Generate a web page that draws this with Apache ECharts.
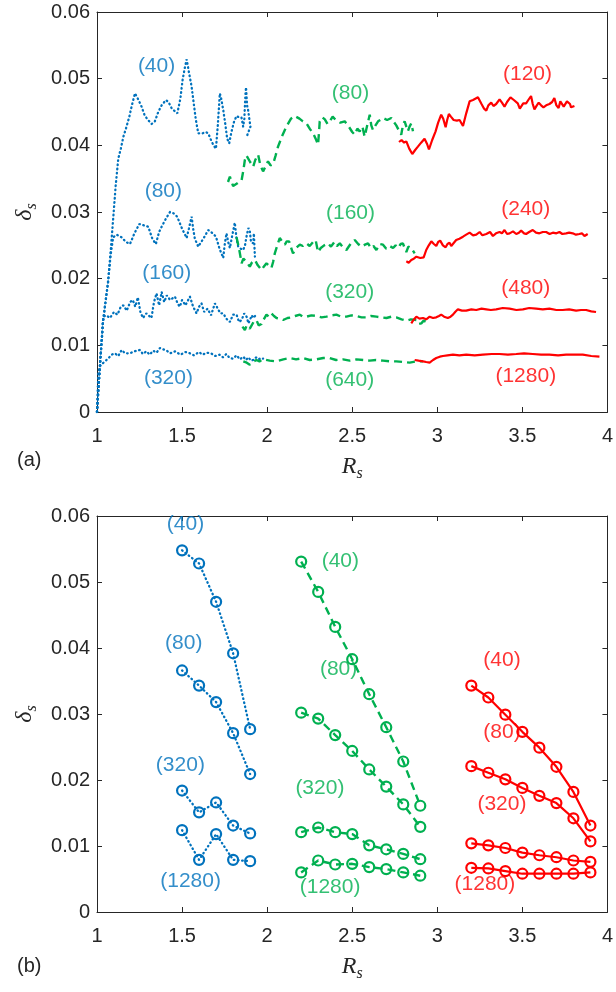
<!DOCTYPE html>
<html>
<head>
<meta charset="utf-8">
<title>δs versus Rs</title>
<script src="https://cdn.jsdelivr.net/npm/echarts@6/dist/echarts.min.js"></script>
<style>
  html, body { margin: 0; padding: 0; background: #ffffff; }
  #chart { width: 616px; height: 992px; }
</style>
</head>
<body>
<div id="chart"></div>
<script>
// ---------- Panel (a): δs traced along Rs ----------
// blue dotted, segment 1 < Rs < 2
const blue40 = [[1.0,0],[1.01,0.004],[1.02,0.008],[1.035,0.0135],[1.05,0.0165],[1.065,0.0195],[1.08,0.024],[1.096,0.0293],[1.11,0.034],[1.125,0.038],[1.14,0.0395],[1.155,0.0413],[1.17,0.0425],[1.19,0.0443],[1.205,0.046],[1.223,0.0478],[1.24,0.047],[1.262,0.0458],[1.28,0.0445],[1.3,0.0438],[1.321,0.0432],[1.34,0.0436],[1.36,0.045],[1.38,0.046],[1.405,0.0468],[1.42,0.0465],[1.44,0.0455],[1.472,0.0448],[1.49,0.047],[1.503,0.0498],[1.515,0.0515],[1.527,0.0529],[1.54,0.051],[1.556,0.0488],[1.57,0.046],[1.58,0.044],[1.595,0.0418],[1.62,0.0418],[1.64,0.042],[1.654,0.0418],[1.67,0.0408],[1.685,0.04],[1.699,0.0395],[1.71,0.043],[1.722,0.0478],[1.73,0.047],[1.742,0.0453],[1.755,0.043],[1.765,0.041],[1.777,0.0403],[1.79,0.042],[1.805,0.0435],[1.82,0.0444],[1.835,0.0442],[1.849,0.0442],[1.859,0.0428],[1.866,0.044],[1.872,0.0475],[1.876,0.0487],[1.882,0.046],[1.888,0.0453],[1.895,0.044],[1.902,0.0428],[1.89,0.042],[1.88,0.0413]];
const blue80 = [[1.0,0],[1.01,0.004],[1.02,0.008],[1.035,0.0135],[1.05,0.0165],[1.065,0.0195],[1.08,0.0235],[1.095,0.0262],[1.115,0.0266],[1.13,0.0264],[1.145,0.0262],[1.17,0.0255],[1.194,0.0252],[1.22,0.0268],[1.249,0.0282],[1.275,0.028],[1.301,0.0278],[1.325,0.026],[1.346,0.0252],[1.365,0.027],[1.38,0.0278],[1.405,0.029],[1.429,0.03],[1.45,0.0298],[1.471,0.0293],[1.5,0.0275],[1.527,0.0261],[1.54,0.0275],[1.556,0.0293],[1.565,0.0275],[1.575,0.026],[1.595,0.0248],[1.625,0.026],[1.654,0.0273],[1.68,0.0268],[1.699,0.0263],[1.72,0.0245],[1.742,0.0231],[1.75,0.025],[1.761,0.0268],[1.771,0.0255],[1.781,0.0246],[1.795,0.0265],[1.81,0.0284],[1.82,0.026],[1.83,0.0248],[1.845,0.0245],[1.859,0.0243],[1.87,0.025],[1.88,0.0265],[1.89,0.0276],[1.898,0.0272],[1.905,0.0255],[1.918,0.0253],[1.922,0.0268],[1.928,0.0233]];
const blue160 = [[1.0,0],[1.01,0.004],[1.02,0.008],[1.03,0.0115],[1.037,0.0143],[1.055,0.0145],[1.076,0.0141],[1.1,0.015],[1.12,0.0146],[1.14,0.0158],[1.155,0.016],[1.175,0.0152],[1.195,0.0165],[1.21,0.0168],[1.225,0.0158],[1.24,0.0172],[1.255,0.015],[1.27,0.0141],[1.29,0.0148],[1.32,0.0141],[1.335,0.0165],[1.35,0.0178],[1.365,0.016],[1.38,0.018],[1.395,0.0165],[1.41,0.0175],[1.43,0.0168],[1.458,0.0173],[1.475,0.0162],[1.487,0.0158],[1.5,0.0168],[1.52,0.016],[1.546,0.0173],[1.565,0.0158],[1.585,0.0148],[1.6,0.0158],[1.614,0.0163],[1.63,0.015],[1.65,0.0155],[1.67,0.0145],[1.693,0.0163],[1.71,0.0155],[1.725,0.0148],[1.742,0.0148],[1.76,0.014],[1.781,0.0135],[1.8,0.0146],[1.82,0.0146],[1.835,0.0135],[1.85,0.0138],[1.865,0.0148],[1.879,0.0143],[1.89,0.0133],[1.898,0.0133],[1.91,0.0145],[1.918,0.0141],[1.928,0.0138],[1.937,0.0146]];
const blue320 = [[1.0,0],[1.004,0.003],[1.008,0.0058],[1.015,0.0068],[1.03,0.0072],[1.047,0.0076],[1.065,0.008],[1.086,0.0086],[1.105,0.0088],[1.125,0.0084],[1.145,0.0093],[1.165,0.0088],[1.194,0.0088],[1.22,0.0091],[1.252,0.0093],[1.27,0.0087],[1.29,0.0091],[1.31,0.0086],[1.33,0.0092],[1.35,0.0089],[1.37,0.0096],[1.39,0.0094],[1.41,0.0092],[1.43,0.0088],[1.46,0.0091],[1.49,0.0086],[1.52,0.009],[1.546,0.0088],[1.57,0.0085],[1.6,0.009],[1.62,0.0086],[1.645,0.0089],[1.67,0.0088],[1.695,0.0084],[1.72,0.0086],[1.74,0.0082],[1.76,0.0087],[1.78,0.0081],[1.8,0.008],[1.82,0.0085],[1.84,0.0079],[1.86,0.0083],[1.875,0.0078],[1.89,0.0082],[1.905,0.0077],[1.918,0.0078],[1.935,0.0082],[1.95,0.0079],[1.965,0.0081],[1.976,0.008]];

// green dashed, segment 2 < Rs < 3
const green80 = [[1.77,0.0345],[1.781,0.0353],[1.79,0.0346],[1.80,0.0339],[1.825,0.0343],[1.85,0.0348],[1.86,0.0362],[1.869,0.0378],[1.878,0.0385],[1.888,0.0383],[1.9,0.0375],[1.918,0.0368],[1.93,0.0378],[1.947,0.0386],[1.96,0.037],[1.976,0.0361],[1.99,0.0368],[2.005,0.0376],[2.02,0.037],[2.035,0.0372],[2.05,0.0385],[2.064,0.0398],[2.09,0.0415],[2.113,0.0428],[2.14,0.044],[2.162,0.0444],[2.19,0.044],[2.21,0.0436],[2.231,0.0433],[2.25,0.0425],[2.27,0.0418],[2.285,0.041],[2.299,0.0401],[2.305,0.042],[2.309,0.0436],[2.325,0.0442],[2.339,0.0439],[2.355,0.0432],[2.368,0.0436],[2.385,0.0443],[2.403,0.0438],[2.43,0.0434],[2.456,0.0436],[2.48,0.0428],[2.5,0.042],[2.515,0.0416],[2.53,0.0425],[2.544,0.0421],[2.56,0.0428],[2.573,0.0413],[2.59,0.0432],[2.603,0.0446],[2.612,0.043],[2.622,0.0423],[2.637,0.043],[2.652,0.0436],[2.665,0.0438],[2.681,0.0441],[2.705,0.0438],[2.73,0.0441],[2.745,0.0435],[2.759,0.043],[2.775,0.0422],[2.788,0.0416],[2.798,0.043],[2.808,0.0436],[2.818,0.0428],[2.827,0.0421],[2.837,0.0428],[2.847,0.0433],[2.857,0.0421]];
const green160 = [[1.82,0.0262],[1.835,0.0245],[1.85,0.0223],[1.86,0.023],[1.869,0.0233],[1.88,0.0225],[1.898,0.0218],[1.91,0.0224],[1.928,0.0228],[1.945,0.022],[1.967,0.0213],[1.98,0.0218],[1.996,0.0223],[2.01,0.022],[2.025,0.0216],[2.035,0.0225],[2.045,0.0238],[2.06,0.025],[2.074,0.0261],[2.09,0.0255],[2.104,0.0251],[2.115,0.0256],[2.129,0.0256],[2.14,0.0247],[2.152,0.0238],[2.17,0.0246],[2.192,0.0251],[2.21,0.0249],[2.231,0.0253],[2.25,0.0249],[2.27,0.0255],[2.285,0.0258],[2.299,0.024],[2.315,0.0246],[2.335,0.025],[2.358,0.0253],[2.375,0.0248],[2.395,0.0255],[2.41,0.0249],[2.427,0.0253],[2.445,0.0247],[2.466,0.0243],[2.49,0.0252],[2.515,0.0258],[2.535,0.0252],[2.554,0.0248],[2.575,0.0251],[2.593,0.0253],[2.61,0.0246],[2.625,0.0249],[2.642,0.0243],[2.66,0.0252],[2.681,0.0251],[2.7,0.0245],[2.72,0.0249],[2.74,0.0246],[2.755,0.025],[2.77,0.0246],[2.785,0.0252],[2.798,0.0253],[2.808,0.0246],[2.818,0.024],[2.83,0.0248],[2.847,0.0246],[2.857,0.0243],[2.867,0.0238]];
const green320 = [[1.855,0.0128],[1.869,0.0123],[1.88,0.013],[1.888,0.0133],[1.898,0.0125],[1.908,0.0128],[1.92,0.0135],[1.937,0.0138],[1.95,0.013],[1.967,0.0132],[1.98,0.0139],[1.996,0.0146],[2.01,0.0143],[2.025,0.0148],[2.04,0.0144],[2.055,0.0141],[2.075,0.014],[2.094,0.0138],[2.12,0.0141],[2.143,0.0142],[2.165,0.0144],[2.192,0.0146],[2.21,0.0143],[2.231,0.0143],[2.26,0.0145],[2.29,0.0144],[2.32,0.0142],[2.349,0.0143],[2.38,0.0145],[2.407,0.0146],[2.435,0.0143],[2.466,0.0143],[2.495,0.0145],[2.525,0.0144],[2.555,0.0142],[2.583,0.0142],[2.61,0.0144],[2.642,0.0143],[2.67,0.0142],[2.701,0.0141],[2.73,0.0143],[2.759,0.0142],[2.79,0.0139],[2.818,0.0137],[2.845,0.0139],[2.877,0.0138],[2.892,0.0132],[2.906,0.0133],[2.92,0.0137],[2.935,0.0135]];
const green640 = [[1.86,0.0076],[1.88,0.0074],[1.898,0.0071],[1.915,0.0075],[1.937,0.0078],[1.955,0.0076],[1.976,0.0079],[2.015,0.0077],[2.055,0.0076],[2.095,0.0079],[2.133,0.0081],[2.17,0.0079],[2.211,0.0081],[2.25,0.0078],[2.29,0.0079],[2.33,0.0081],[2.368,0.0081],[2.405,0.0078],[2.446,0.0079],[2.485,0.0077],[2.525,0.0079],[2.565,0.0078],[2.603,0.0077],[2.64,0.0078],[2.681,0.0077],[2.72,0.0076],[2.759,0.0076],[2.8,0.0075],[2.838,0.0074],[2.878,0.0076],[2.916,0.0076]];

// red solid, segment 3 < Rs < 4
const red120 = [[2.775,0.0405],[2.79,0.0408],[2.805,0.0404],[2.818,0.0406],[2.835,0.0395],[2.853,0.0387],[2.87,0.0393],[2.886,0.0398],[2.905,0.0404],[2.925,0.041],[2.94,0.0402],[2.951,0.0394],[2.97,0.0408],[2.99,0.0421],[3.005,0.0434],[3.023,0.0446],[3.035,0.044],[3.049,0.0427],[3.058,0.0438],[3.068,0.0447],[3.08,0.0443],[3.096,0.0438],[3.115,0.0437],[3.131,0.0438],[3.151,0.0429],[3.17,0.0448],[3.19,0.0466],[3.21,0.0468],[3.239,0.0472],[3.26,0.0462],[3.275,0.0455],[3.288,0.0452],[3.3,0.046],[3.317,0.0464],[3.33,0.0459],[3.346,0.0462],[3.366,0.0469],[3.38,0.0464],[3.395,0.0458],[3.41,0.0465],[3.43,0.0472],[3.45,0.0468],[3.473,0.0463],[3.485,0.0455],[3.493,0.0457],[3.505,0.0463],[3.522,0.0463],[3.535,0.0468],[3.551,0.0474],[3.561,0.0462],[3.571,0.0454],[3.585,0.046],[3.596,0.0464],[3.61,0.046],[3.624,0.0457],[3.64,0.046],[3.659,0.0462],[3.675,0.0465],[3.688,0.0471],[3.7,0.046],[3.713,0.0456],[3.723,0.0466],[3.733,0.0468],[3.743,0.0458],[3.753,0.0458],[3.762,0.0466],[3.772,0.0469],[3.78,0.0462],[3.786,0.0457],[3.796,0.046],[3.806,0.0459]];
const red240 = [[2.818,0.0226],[2.832,0.0224],[2.847,0.0228],[2.862,0.023],[2.877,0.0233],[2.9,0.0231],[2.92,0.0232],[2.935,0.0243],[2.95,0.025],[2.965,0.0256],[2.98,0.0252],[2.994,0.0249],[3.005,0.0255],[3.017,0.0257],[3.033,0.025],[3.049,0.0247],[3.06,0.0252],[3.072,0.0254],[3.082,0.0249],[3.092,0.0248],[3.111,0.0258],[3.13,0.026],[3.151,0.0263],[3.17,0.0266],[3.19,0.0269],[3.21,0.0265],[3.229,0.0266],[3.249,0.027],[3.265,0.0265],[3.288,0.0267],[3.31,0.027],[3.327,0.0264],[3.345,0.0268],[3.366,0.027],[3.38,0.0268],[3.395,0.0273],[3.41,0.0267],[3.425,0.0268],[3.445,0.0271],[3.464,0.0267],[3.48,0.0269],[3.493,0.0272],[3.51,0.0268],[3.522,0.0267],[3.54,0.027],[3.561,0.0273],[3.58,0.0269],[3.6,0.0268],[3.62,0.027],[3.64,0.027],[3.66,0.0267],[3.679,0.0269],[3.7,0.0268],[3.718,0.027],[3.735,0.0267],[3.757,0.0268],[3.775,0.0269],[3.796,0.0268],[3.815,0.0266],[3.835,0.0267],[3.85,0.0268],[3.865,0.0264],[3.875,0.0265],[3.884,0.0267]];
const red480 = [[2.847,0.0133],[2.86,0.0138],[2.877,0.0143],[2.895,0.014],[2.916,0.0141],[2.935,0.0139],[2.955,0.0143],[2.975,0.0141],[2.994,0.0142],[3.01,0.0144],[3.023,0.0146],[3.04,0.0143],[3.062,0.0141],[3.078,0.0143],[3.092,0.0146],[3.105,0.015],[3.121,0.0154],[3.145,0.0152],[3.17,0.0152],[3.2,0.0154],[3.229,0.0153],[3.26,0.0155],[3.288,0.0154],[3.315,0.0153],[3.346,0.0154],[3.385,0.0156],[3.425,0.0155],[3.465,0.0153],[3.503,0.0154],[3.54,0.0156],[3.581,0.0155],[3.62,0.0154],[3.659,0.0155],[3.7,0.0153],[3.737,0.0153],[3.775,0.0154],[3.816,0.0152],[3.845,0.0153],[3.875,0.0153],[3.905,0.0151],[3.933,0.015]];
const red1280 = [[2.867,0.0078],[2.89,0.0077],[2.916,0.0076],[2.935,0.0075],[2.955,0.0074],[2.975,0.0078],[2.994,0.0081],[3.015,0.0083],[3.033,0.0084],[3.06,0.0085],[3.092,0.0086],[3.13,0.0085],[3.17,0.0086],[3.22,0.0085],[3.268,0.0086],[3.32,0.0087],[3.366,0.0087],[3.415,0.0086],[3.464,0.0087],[3.51,0.0088],[3.561,0.0087],[3.61,0.0086],[3.659,0.0086],[3.71,0.0085],[3.757,0.0086],[3.805,0.0086],[3.855,0.0086],[3.905,0.0084],[3.953,0.0083]];

// curve annotations for panel (a): [Rs, δs, text]
const labelsTopBlue  = [[1.35,0.0518,'(40)'],[1.39,0.0331,'(80)'],[1.41,0.0208,'(160)'],[1.42,0.0051,'(320)']];
const labelsTopGreen = [[2.49,0.0478,'(80)'],[2.49,0.0298,'(160)'],[2.485,0.018,'(320)'],[2.485,0.0048,'(640)']];
const labelsTopRed   = [[3.53,0.0507,'(120)'],[3.52,0.0304,'(240)'],[3.52,0.0186,'(480)'],[3.52,0.0054,'(1280)']];

// ---------- Panel (b): δs at sampled Rs ----------
const rsBlue  = [1.5, 1.6, 1.7, 1.8, 1.9];
const rsGreen = [2.2, 2.3, 2.4, 2.5, 2.6, 2.7, 2.8, 2.9];
const rsRed   = [3.2, 3.3, 3.4, 3.5, 3.6, 3.7, 3.8, 3.9];

const bBlue40    = [0.0548, 0.0528, 0.0470, 0.0392, 0.0277];
const bBlue80    = [0.0366, 0.0343, 0.0318, 0.0271, 0.0209];
const bBlue320   = [0.0184, 0.0151, 0.0166, 0.0131, 0.0119];
const bBlue1280  = [0.0124, 0.0079, 0.0118, 0.0079, 0.0077];
const bGreen40   = [0.0531, 0.0485, 0.0432, 0.0383, 0.0330, 0.0280, 0.0228, 0.0161];
const bGreen80   = [0.0302, 0.0293, 0.0268, 0.0244, 0.0216, 0.0190, 0.0163, 0.0129];
const bGreen320  = [0.0121, 0.0128, 0.0121, 0.0118, 0.0101, 0.0095, 0.0088, 0.0080];
const bGreen1280 = [0.0060, 0.0078, 0.0072, 0.0073, 0.0068, 0.0065, 0.0060, 0.0055];
const bRed40     = [0.0343, 0.0325, 0.0299, 0.0273, 0.0249, 0.0220, 0.0182, 0.0131];
const bRed80     = [0.0221, 0.0211, 0.0201, 0.0188, 0.0176, 0.0165, 0.0142, 0.0107];
const bRed320    = [0.0104, 0.0101, 0.0097, 0.0090, 0.0086, 0.0083, 0.0078, 0.0076];
const bRed1280   = [0.0067, 0.0066, 0.0062, 0.0058, 0.0058, 0.0058, 0.0058, 0.0060];

const labelsBotBlue  = [[1.52,0.0588,'(40)'],[1.51,0.0408,'(80)'],[1.49,0.0222,'(320)'],[1.55,0.0046,'(1280)']];
const labelsBotGreen = [[2.43,0.0531,'(40)'],[2.42,0.0368,'(80)'],[2.31,0.0188,'(320)'],[2.37,0.0038,'(1280)']];
const labelsBotRed   = [[3.38,0.0382,'(40)'],[3.38,0.0272,'(80)'],[3.38,0.0164,'(320)'],[3.28,0.0042,'(1280)']];

const xTicks = { min: 1, max: 4, interval: 0.5 };
const yTicks = { min: 0, max: 0.06, interval: 0.01 };

// ---------- styling ----------
const BLUE = '#0072BD', GREEN = '#00B050', RED = '#FF0000';
const AXIS = '#262626';
const SANS = '"Liberation Sans", Arial, sans-serif';
const SERIF = '"Liberation Serif", "DejaVu Serif", serif';

const dotted = { color: BLUE, width: 2.3, type: [0.6, 3.6], cap: 'round' };
const dashed = { color: GREEN, width: 2.4, type: [8, 5] };
const solid  = { color: RED, width: 2.2 };

const zip = (xs, ys) => xs.map((x, i) => [x, ys[i]]);

const nameRich = {
  i: { fontFamily: SERIF, fontStyle: 'italic', fontSize: 24, color: AXIS },
  s: { fontFamily: SERIF, fontStyle: 'italic', fontSize: 16, color: AXIS, padding: [14, 0, 0, 0] }
};

function axisPair(gridIndex) {
  const x = [
    {
      type: 'value', gridIndex, position: 'bottom', ...xTicks,
      axisLine: { onZero: false, lineStyle: { color: AXIS, width: 1 } },
      axisTick: { inside: true, length: 5, lineStyle: { color: AXIS } },
      axisLabel: { color: AXIS, fontSize: 20, fontFamily: SANS, margin: 14 },
      splitLine: { show: false },
      name: '{i|R}{s|s}', nameLocation: 'middle', nameGap: 40,
      nameTextStyle: { rich: nameRich }
    },
    {
      type: 'value', gridIndex, position: 'top', ...xTicks,
      axisLine: { onZero: false, lineStyle: { color: AXIS, width: 1 } },
      axisTick: { inside: true, length: 5, lineStyle: { color: AXIS } },
      axisLabel: { show: false }, splitLine: { show: false }
    }
  ];
  const y = [
    {
      type: 'value', gridIndex, position: 'left', ...yTicks,
      axisLine: { show: true, onZero: false, lineStyle: { color: AXIS, width: 1 } },
      axisTick: { show: true, inside: true, length: 5, lineStyle: { color: AXIS } },
      axisLabel: { color: AXIS, fontSize: 20, fontFamily: SANS, margin: 7 },
      splitLine: { show: false },
      name: '{i|δ}{s|s}', nameLocation: 'middle', nameGap: 56,
      nameTextStyle: { rich: nameRich }
    },
    {
      type: 'value', gridIndex, position: 'right', ...yTicks,
      axisLine: { show: true, onZero: false, lineStyle: { color: AXIS, width: 1 } },
      axisTick: { show: true, inside: true, length: 5, lineStyle: { color: AXIS } },
      axisLabel: { show: false }, splitLine: { show: false }
    }
  ];
  return { x, y };
}

const axesA = axisPair(0), axesB = axisPair(1);

function traceLine(data, style, xi, yi, z) {
  return {
    type: 'line', data, xAxisIndex: xi, yAxisIndex: yi, showSymbol: false, symbol: 'none',
    lineStyle: style, z, animation: false, silent: true
  };
}
function markerLine(xs, ys, style, color, xi, yi, z) {
  return {
    type: 'line', data: zip(xs, ys), xAxisIndex: xi, yAxisIndex: yi,
    symbol: 'circle', symbolSize: 10, showSymbol: true,
    itemStyle: { color: 'rgba(0,0,0,0)', borderColor: color, borderWidth: 2.2 },
    lineStyle: style, z, animation: false, silent: true
  };
}
function textSeries(items, color, xi, yi) {
  return {
    type: 'scatter', data: items, xAxisIndex: xi, yAxisIndex: yi,
    symbolSize: 0, z: 10, animation: false, silent: true,
    label: {
      show: true, position: 'inside', color, fontSize: 21, fontFamily: SANS,
      formatter: p => p.data[2]
    }
  };
}

const option = {
  backgroundColor: '#ffffff',
  animation: false,
  grid: [
    { left: 97, top: 12, width: 511, height: 400 },
    { left: 97, top: 516, width: 511, height: 396 }
  ],
  xAxis: [...axesA.x, ...axesB.x],
  yAxis: [...axesA.y, ...axesB.y],
  graphic: [
    { type: 'text', left: 17, top: 450, style: { text: '(a)', fontSize: 20, fontFamily: SANS, fill: AXIS } },
    { type: 'text', left: 17, top: 956, style: { text: '(b)', fontSize: 20, fontFamily: SANS, fill: AXIS } }
  ],
  series: [
    // panel (a)
    traceLine(blue40, dotted, 0, 0, 2),
    traceLine(blue80, dotted, 0, 0, 2),
    traceLine(blue160, dotted, 0, 0, 2),
    traceLine(blue320, dotted, 0, 0, 2),
    traceLine(green80, dashed, 0, 0, 3),
    traceLine(green160, dashed, 0, 0, 3),
    traceLine(green320, dashed, 0, 0, 3),
    traceLine(green640, dashed, 0, 0, 3),
    traceLine(red120, solid, 0, 0, 4),
    traceLine(red240, solid, 0, 0, 4),
    traceLine(red480, solid, 0, 0, 4),
    traceLine(red1280, solid, 0, 0, 4),
    textSeries(labelsTopBlue, BLUE, 0, 0),
    textSeries(labelsTopGreen, GREEN, 0, 0),
    textSeries(labelsTopRed, RED, 0, 0),
    // panel (b)
    markerLine(rsBlue, bBlue40, dotted, BLUE, 2, 2, 2),
    markerLine(rsBlue, bBlue80, dotted, BLUE, 2, 2, 2),
    markerLine(rsBlue, bBlue320, dotted, BLUE, 2, 2, 2),
    markerLine(rsBlue, bBlue1280, dotted, BLUE, 2, 2, 2),
    markerLine(rsGreen, bGreen40, dashed, GREEN, 2, 2, 3),
    markerLine(rsGreen, bGreen80, dashed, GREEN, 2, 2, 3),
    markerLine(rsGreen, bGreen320, dashed, GREEN, 2, 2, 3),
    markerLine(rsGreen, bGreen1280, dashed, GREEN, 2, 2, 3),
    markerLine(rsRed, bRed40, solid, RED, 2, 2, 4),
    markerLine(rsRed, bRed80, solid, RED, 2, 2, 4),
    markerLine(rsRed, bRed320, solid, RED, 2, 2, 4),
    markerLine(rsRed, bRed1280, solid, RED, 2, 2, 4),
    textSeries(labelsBotBlue, BLUE, 2, 2),
    textSeries(labelsBotGreen, GREEN, 2, 2),
    textSeries(labelsBotRed, RED, 2, 2)
  ]
};

const chart = echarts.init(document.getElementById('chart'), null, { renderer: 'canvas' });
chart.setOption(option);
</script>
</body>
</html>
